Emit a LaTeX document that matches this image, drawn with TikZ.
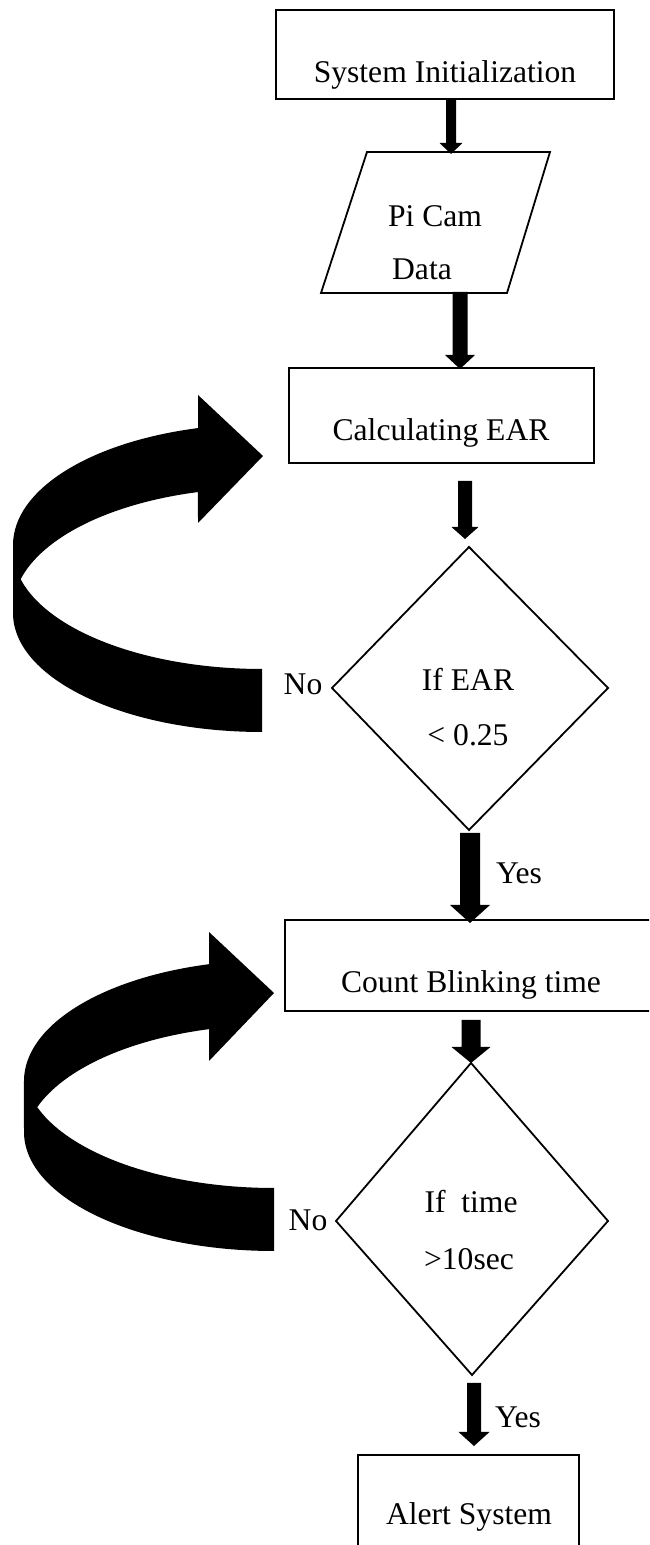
\documentclass[tikz,border=0pt]{standalone}
\usepackage{fontspec}
\setmainfont{Liberation Serif}
\usetikzlibrary{calc}
\tikzset{
  outline/.style={draw=black, line width=0.9pt},
  boxnode/.style={outline, rectangle, inner sep=0pt},
  lbl/.style={inner sep=0pt, anchor=base, font=\fontsize{15.8pt}{19pt}\selectfont},
  blockfill/.style={fill=black},
}
\newcommand\blockarrow[6]{% x, Ytop, Ytip, shaft half, head half, head length
  \fill[blockfill] (#1-#4,#2) -- (#1+#4,#2) -- (#1+#4,#3+#6) -- (#1+#5,#3+#6)
    -- (#1,#3) -- (#1-#5,#3+#6) -- (#1-#4,#3+#6) -- cycle;}
\begin{document}
\begin{tikzpicture}[x=0.5pt, y=0.5pt]
\clip (0,0) rectangle (649,1545);
\fill[white] (0,0) rectangle (649,1545);

% ---------- boxes ----------
\node[boxnode, minimum width=169pt, minimum height=44.5pt] (init) at (445,1490.5) {};
\node[lbl] (tinit) at (445,1462) {System Initialization};

\draw[outline] (367,1393) coordinate (camTL) -- (550,1393) -- (507,1252) -- (321,1252) coordinate (camBL) -- cycle;
\node[lbl] (tcam1) at (435,1318) {Pi Cam};
\node[lbl] (tcam2) at (422,1265) {Data};

\node[boxnode, minimum width=152.5pt, minimum height=47.5pt] (ear) at (441.5,1129.5) {};
\node[lbl] (tear) at (441,1104) {Calculating EAR};

\draw[outline] (469,998) coordinate (d1top) -- (608,857) -- (469,715) -- (332,857) coordinate (d1left) -- cycle;
\node[lbl] (td1a) at (468,854) {If EAR};
\node[lbl] (td1b) at (468,799) {< 0.25};
\node[lbl] (no1) at (303,850) {No};

\node[boxnode, minimum width=185.5pt, minimum height=45.5pt] (count) at (470.5,579.5) {};
\node[lbl] (tcount) at (471,552) {Count Blinking time};

\draw[outline] (471,482) coordinate (d2top) -- (608,324) -- (472,170) -- (336,324) coordinate (d2left) -- cycle;
\node[lbl] (td2a) at (471,332) {If\ \ time};
\node[lbl] (td2b) at (469,275) {>10sec};
\node[lbl] (no2) at (308,314) {No};

\node[boxnode, minimum width=110.5pt, minimum height=55pt, anchor=north] (alert) at (468.5,91) {};
\node[lbl] (talert) at (469,20) {Alert System};

% ---------- yes labels ----------
\node[lbl] (yes1) at (519,661) {Yes};
\node[lbl] (yes2) at (518,117) {Yes};

% ---------- straight block arrows ----------
\blockarrow{451}{1445}{1391}{5}{11.5}{11}
\blockarrow{460}{1253}{1176}{7.5}{15}{14}
\blockarrow{465}{1064}{1006}{7}{13.5}{12}
\blockarrow{470}{712}{622}{10}{20}{18}
\blockarrow{471}{525}{482}{9.5}{19.5}{16}
\blockarrow{474}{162}{99}{7}{15.5}{14}

% ---------- curved loop-back arrows ----------
\fill[blockfill] (198,1116.9)
  arc[start angle=104.9, end angle=180, x radius=124.5pt, y radius=60.5pt]
  -- (13,932)
  arc[start angle=180, end angle=270, x radius=124.5pt, y radius=59.5pt]
  -- (262,876)
  arc[start angle=270, end angle=194.23, x radius=124.5pt, y radius=59.5pt]
  arc[start angle=165.77, end angle=104.9, x radius=124.5pt, y radius=60.5pt]
  -- (198,1022) -- (263,1089) -- (198,1150) -- cycle;

\fill[blockfill] (209,580.8)
  arc[start angle=105.07, end angle=180, x radius=125pt, y radius=60.5pt]
  -- (24,413)
  arc[start angle=180, end angle=270, x radius=125pt, y radius=59.5pt]
  -- (274,357)
  arc[start angle=270, end angle=198.71, x radius=125pt, y radius=59.5pt]
  arc[start angle=161.29, end angle=105.07, x radius=125pt, y radius=60.5pt]
  -- (209,484) -- (274,552) -- (209,613) -- cycle;
\end{tikzpicture}
\end{document}
